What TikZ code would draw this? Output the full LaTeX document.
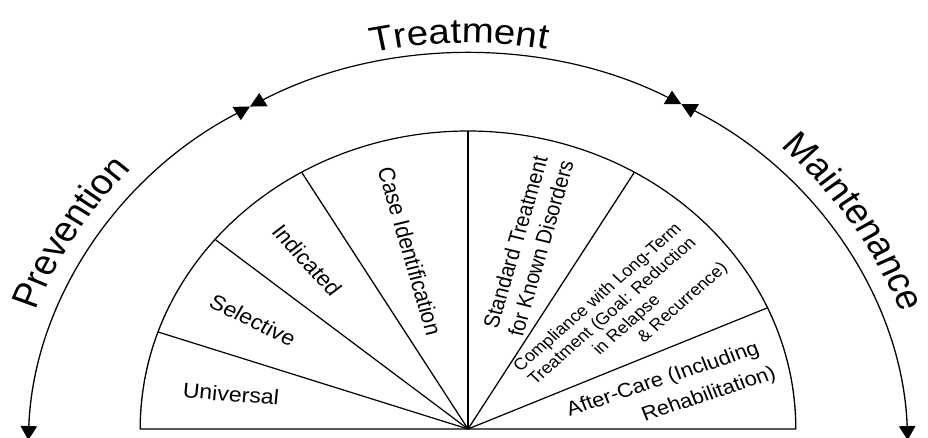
\documentclass[tikz,border=0pt]{standalone}
\usepackage{fontspec}
\setmainfont{Liberation Sans}
\usetikzlibrary{arrows.meta,decorations.text,calc}
\newcommand{\headfont}{\fontsize{35}{40}\selectfont}
\newcommand{\labfont}{\fontsize{21}{25}\selectfont}
\newcommand{\smallfont}{\fontsize{16.5}{19}\selectfont}
\tikzset{
  ln/.style={line width=1.2pt, black},
  arcarrow/.style={line width=1.2pt, {Triangle[length=14pt,width=15pt]}-{Triangle[length=14pt,width=15pt]}},
  lab/.style={inner sep=0pt, font=\labfont},
  slab/.style={inner sep=0pt, font=\smallfont},
  headtext/.style={decorate, decoration={text along path, text align=center}}
}
\begin{document}
\begin{tikzpicture}[x=1pt,y=1pt]
\useasboundingbox (0,0) rectangle (928,437);
\fill[white] (0,0) rectangle (928,437);
\begin{scope}[transform canvas={shift={(468pt,8pt)},xscale=1.1}]
  % inner fan
  \coordinate (A) at (0,0);
  \coordinate (p0) at (180:298);
  \coordinate (p1) at (161:298);
  \coordinate (p2) at (140.5:298);
  \coordinate (p3) at (120.5:298);
  \coordinate (p4) at (90:298);
  \coordinate (p5) at (59.5:298);
  \coordinate (p6) at (24:298);
  \draw[ln] (p0) arc[start angle=180,end angle=0,radius=298] -- (A) -- cycle;
  \draw[ln] (A) -- (p1);
  \draw[ln] (A) -- (p2);
  \draw[ln] (A) -- (p3);
  \draw[ln] (A) -- (p4);
  \draw[ln] (A) -- (p5);
  \draw[ln] (A) -- (p6);
  % outer arcs
  \coordinate (O) at (0,-25);
  \coordinate (L) at ($(O)+(119.7:400)$);
  \coordinate (R) at ($(O)+(61:400)$);
  \draw[arcarrow] (L) arc[start angle=119.7,end angle=178,radius=400];
  \draw[arcarrow] (L) arc[start angle=119.7,end angle=61,radius=400];
  \draw[arcarrow] (R) arc[start angle=61,end angle=2,radius=400];
  % headings
  \path[headtext, decoration={text={|\headfont|Treatment}}] ($(O)+(121.1:411)$) arc[start angle=121.1,end angle=61.1,radius=411];
  \path[headtext, decoration={text={|\headfont|Prevention}}] ($(O)+(178.5:418)$) arc[start angle=178.5,end angle=118.5,radius=418];
  \path[headtext, decoration={text={|\headfont|Maintenance}}] ($(O)+(63.5:418)$) arc[start angle=63.5,end angle=3.5,radius=418];
  % sector labels
  \node[lab, rotate=-5] (uni) at (-215.5,35) {Universal};
  \node[lab, rotate=-28] (sel) at (-195.5,109) {Selective};
  \node[lab, rotate=-50] (ind) at (-146.4,169) {Indicated};
  \node[lab, rotate=-75] (cas) at (-52.7,178) {Case Identification};
  \node[lab, rotate=75, align=center, font=\fontsize{20}{24}\selectfont] (std) at (54.5,184) {Standard Treatment\\for Known Disorders};
  \node[slab, rotate=44] (c1) at (118.3,130.9) {Compliance with Long-Term};
  \node[slab, rotate=44] (c2) at (131.5,117.3) {Treatment (Goal: Reduction};
  \node[slab, rotate=44] (c3) at (144.7,103.6) {in Relapse};
  \node[slab, rotate=44] (c4) at (195.3,126.0) {\& Recurrence)};
  \node[lab, rotate=20, font=\fontsize{20}{24}\selectfont] (ac1) at (177.3,49) {After-Care (Including};
  \node[lab, rotate=20, font=\fontsize{20}{24}\selectfont] (ac2) at (219,34) {Rehabilitation)};
\end{scope}
\end{tikzpicture}
\end{document}
